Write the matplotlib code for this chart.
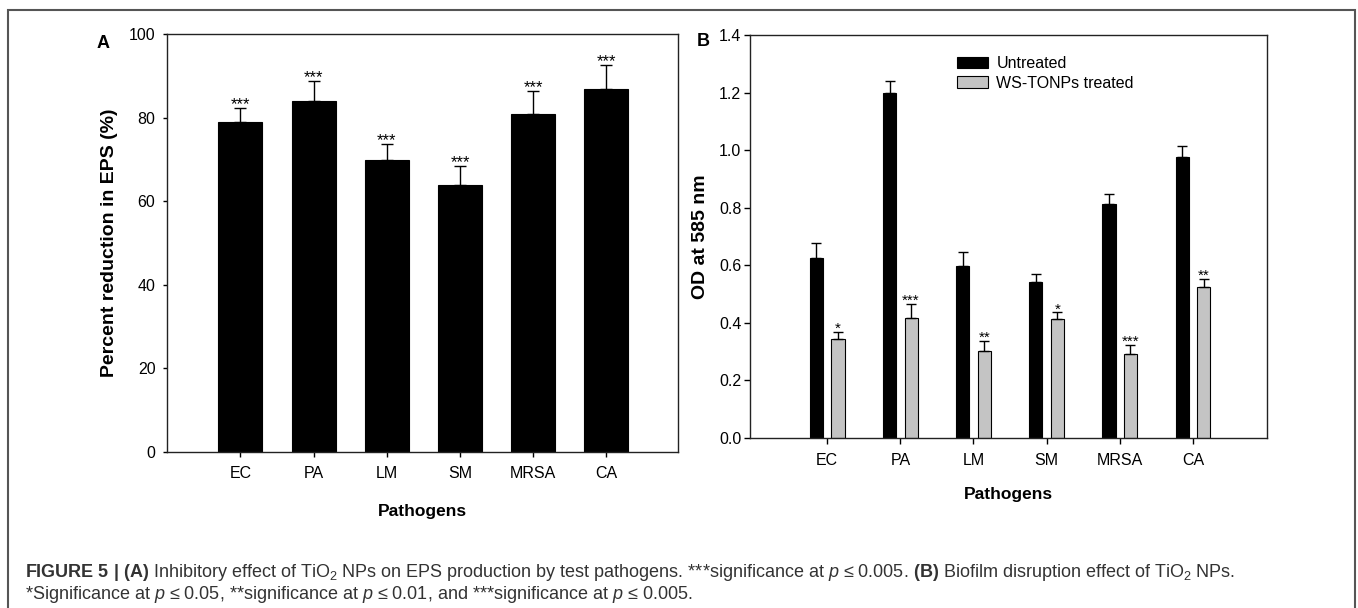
import matplotlib
matplotlib.use("Agg")
import matplotlib.pyplot as plt
import numpy as np
from matplotlib.patches import Rectangle

plt.rcParams['font.family'] = ['Liberation Sans', 'DejaVu Sans']
plt.rcParams['mathtext.fontset'] = 'custom'
plt.rcParams['mathtext.rm'] = 'Liberation Sans'
plt.rcParams['mathtext.it'] = 'Liberation Sans:italic'
plt.rcParams['mathtext.bf'] = 'Liberation Sans:bold'

# ---- data ----
pathogens = ["EC", "PA", "LM", "SM", "MRSA", "CA"]
eps_reduction = [79, 84, 70, 64, 81, 87]
eps_err = [3.4, 4.7, 3.8, 4.4, 5.4, 5.7]
eps_sig = ["***", "***", "***", "***", "***", "***"]

od_untreated = [0.626, 1.200, 0.596, 0.542, 0.813, 0.975]
od_untreated_err = [0.052, 0.041, 0.050, 0.027, 0.034, 0.039]
od_treated = [0.342, 0.415, 0.301, 0.413, 0.292, 0.523]
od_treated_err = [0.025, 0.050, 0.036, 0.023, 0.030, 0.028]
od_sig = ["*", "***", "**", "*", "***", "**"]

series_labels = ["Untreated", "WS-TONPs treated"]
yticks_a = [0, 20, 40, 60, 80, 100]
yticks_b = [0.0, 0.2, 0.4, 0.6, 0.8, 1.0, 1.2, 1.4]

W, H = 1358, 608
fig = plt.figure(figsize=(W / 100, H / 100), dpi=100)

def px_ax(l, t, r, b):
    return [l / W, 1 - b / H, (r - l) / W, (b - t) / H]

axA = fig.add_axes(px_ax(166.5, 34.3, 678.2, 451.7))
axB = fig.add_axes(px_ax(749.7, 35.0, 1266.7, 437.7))

tick_fs = 11.5
ylab_fs = 14
xlab_fs = 12.5

# ---- Panel A ----
x = np.arange(len(pathogens))
axA.bar(x, eps_reduction, width=0.6, color="black", edgecolor="black", linewidth=0.8, zorder=2)
axA.errorbar(x, eps_reduction, yerr=[np.zeros(len(x)), eps_err], fmt="none",
             ecolor="black", elinewidth=1.0, capsize=4.3, capthick=1.0, zorder=3)
for xi, v, e, s in zip(x, eps_reduction, eps_err, eps_sig):
    axA.annotate(s, (xi, v + e), xytext=(0, -1), textcoords="offset pixels",
                 ha="center", va="baseline", fontsize=12)
axA.set_xlim(-1.01, 5.98)
axA.set_ylim(0, 100)
axA.set_yticks(yticks_a)
axA.set_xticks(x)
axA.set_xticklabels(pathogens)
axA.tick_params(axis="y", direction="out", length=3, width=1, pad=5, labelsize=tick_fs)
axA.tick_params(axis="x", direction="out", length=3.5, width=1, pad=6.5, labelsize=tick_fs)
axA.set_ylabel("Percent reduction in EPS (%)", fontsize=ylab_fs, fontweight="bold")
axA.set_xlabel("Pathogens", fontsize=xlab_fs, fontweight="bold")
axA.yaxis.set_label_coords(-0.112, 0.5)
axA.xaxis.set_label_coords(0.5, -0.144)
axA.xaxis.label.set_va("center")
axA.yaxis.label.set_va("center")

# ---- Panel B ----
off = 0.147
wb = 0.18
axB.bar(x - off, od_untreated, width=wb, color="black", edgecolor="black", linewidth=0.8,
        label=series_labels[0], zorder=2)
axB.bar(x + off, od_treated, width=wb, color="#c4c4c4", edgecolor="black", linewidth=0.8,
        label=series_labels[1], zorder=2)
axB.errorbar(x - off, od_untreated, yerr=[np.zeros(len(x)), od_untreated_err], fmt="none",
             ecolor="black", elinewidth=1.0, capsize=3.6, capthick=1.0, zorder=3)
axB.errorbar(x + off, od_treated, yerr=[np.zeros(len(x)), od_treated_err], fmt="none",
             ecolor="black", elinewidth=1.0, capsize=3.6, capthick=1.0, zorder=3)
for xi, v, e, s in zip(x + off, od_treated, od_treated_err, od_sig):
    axB.annotate(s, (xi, v + e), xytext=(0, -1), textcoords="offset pixels",
                 ha="center", va="baseline", fontsize=11)
axB.set_xlim(-1.06, 6.01)
axB.set_ylim(0, 1.4)
axB.set_yticks(yticks_b)
axB.set_yticklabels([f"{t:.1f}" for t in yticks_b])
axB.set_xticks(x)
axB.set_xticklabels(pathogens)
axB.tick_params(axis="y", direction="out", length=4, width=1, pad=2, labelsize=tick_fs)
axB.tick_params(axis="x", direction="out", length=4, width=1, pad=7, labelsize=tick_fs)
axB.set_ylabel("OD at 585 nm", fontsize=ylab_fs, fontweight="bold")
axB.set_xlabel("Pathogens", fontsize=xlab_fs, fontweight="bold")
axB.yaxis.set_label_coords(-0.095, 0.5)
axB.xaxis.set_label_coords(0.5, -0.142)
axB.xaxis.label.set_va("center")
axB.yaxis.label.set_va("center")
axB.legend(loc="upper left", bbox_to_anchor=(0.40, 0.948), frameon=False,
           fontsize=11.5, handlelength=2.0, handleheight=0.75, handletextpad=0.5,
           labelspacing=0.3, borderpad=0, borderaxespad=0)

for ax in (axA, axB):
    for sp in ax.spines.values():
        sp.set_linewidth(1.0)
        sp.set_color("#222222")

# panel letters
fig.text(103 / W, 1 - 43 / H, "A", fontsize=13, fontweight="bold", ha="center", va="center")
fig.text(703 / W, 1 - 42 / H, "B", fontsize=13, fontweight="bold", ha="center", va="center")

# figure frame
fig.patches.append(Rectangle((8 / W, -0.02), (1355 - 8) / W, 1.02 - 10 / H,
                             transform=fig.transFigure, fill=False,
                             edgecolor="#555555", linewidth=1.5))

# caption
cap1 = (r"$\mathbf{FIGURE\ 5\ |\ (A)}$ Inhibitory effect of TiO$_\mathregular{2}$ NPs on EPS production "
        r"by test pathogens. ***significance at $p$ ≤ 0.005. $\mathbf{(B)}$ Biofilm disruption effect "
        r"of TiO$_\mathregular{2}$ NPs.")
cap2 = (r"*Significance at $p$ ≤ 0.05, **significance at $p$ ≤ 0.01, and ***significance at $p$ ≤ 0.005.")
fig.text(25 / W, 1 - 577 / H, cap1, fontsize=13, color="#333333", ha="left", va="baseline")
fig.text(25 / W, 1 - 599 / H, cap2, fontsize=13, color="#333333", ha="left", va="baseline")

fig.savefig("out.png", dpi=100)
